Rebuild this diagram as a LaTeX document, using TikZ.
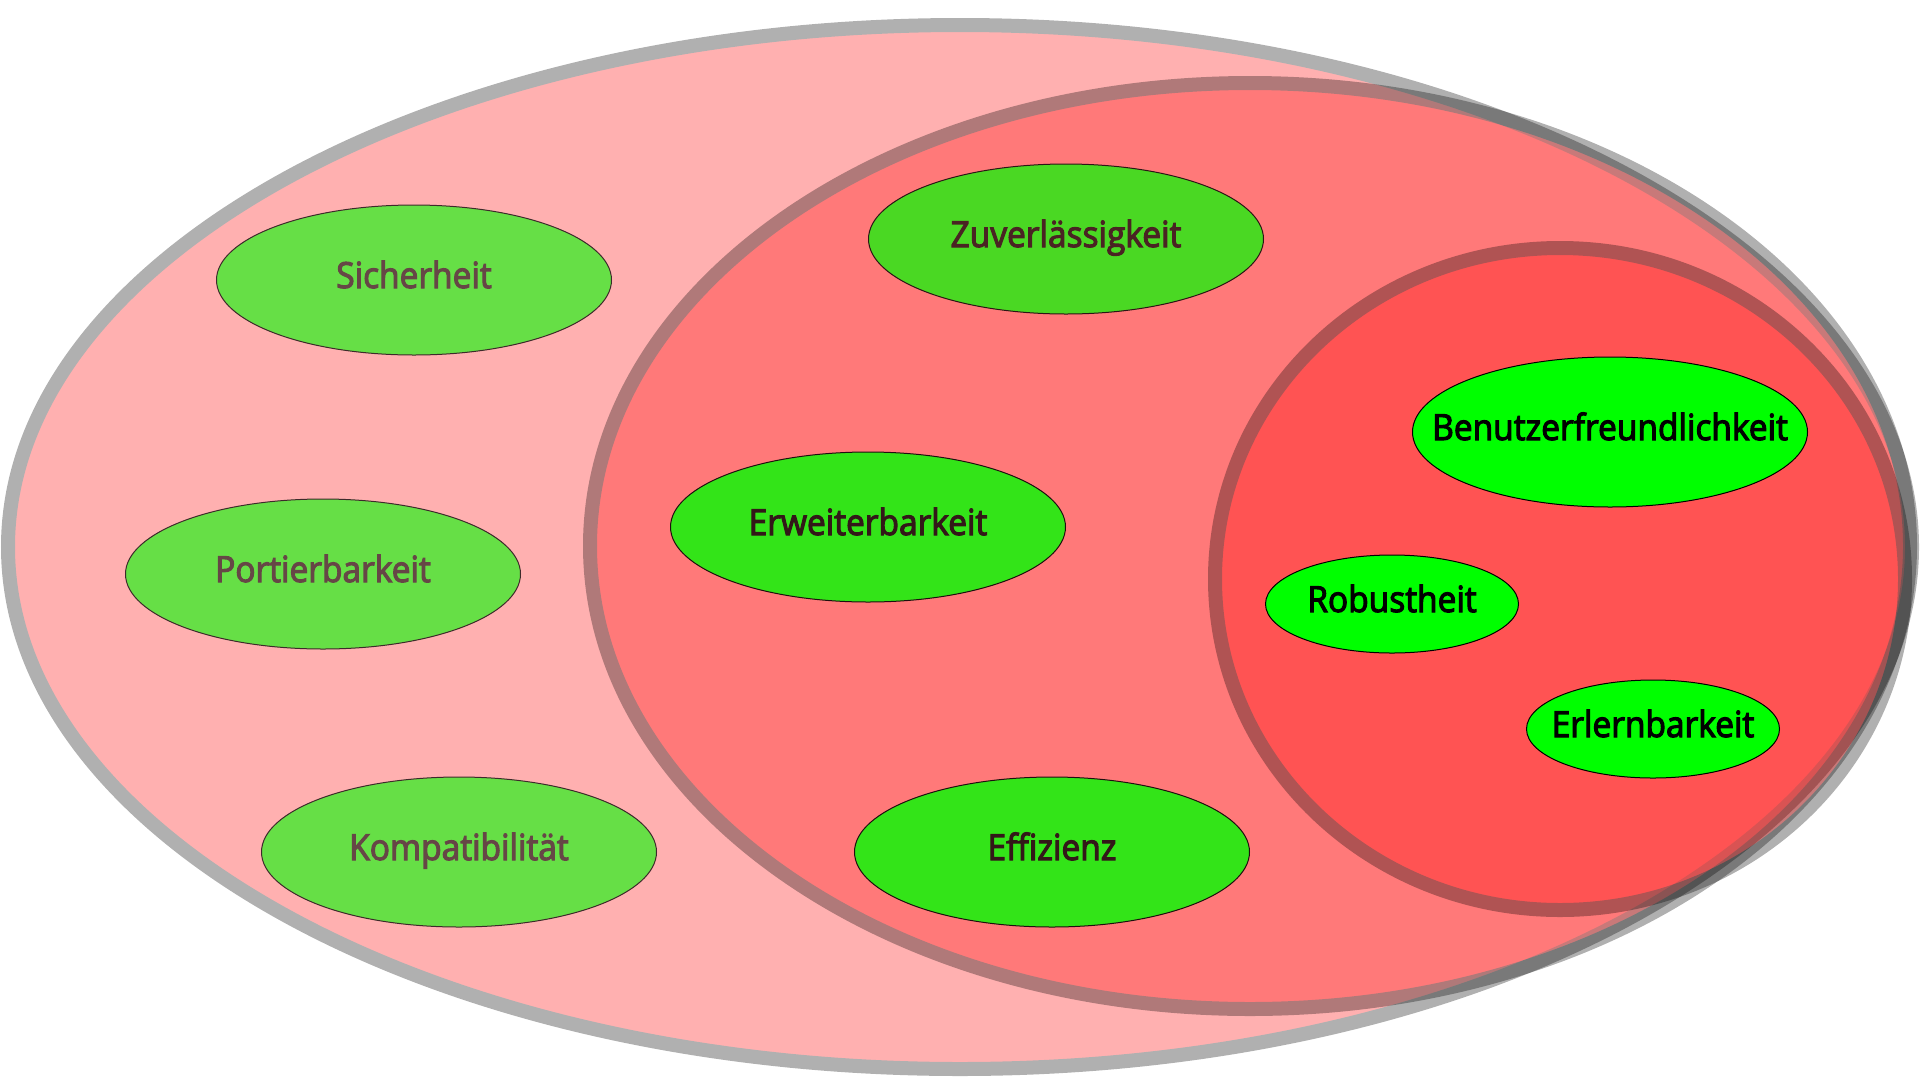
\documentclass[tikz,border=0pt]{standalone}
\usepackage{fontspec}
\setmainfont{Open Sans}[FakeBold=3, FakeStretch=0.93]
\usetikzlibrary{shapes.geometric}
\definecolor{gLeft}{HTML}{66DF46}
\definecolor{tLeft}{HTML}{664646}
\definecolor{gMidA}{HTML}{4AD823}
\definecolor{tMidA}{HTML}{4A2323}
\definecolor{gMidB}{HTML}{33E418}
\definecolor{tMidB}{HTML}{331818}
\definecolor{gRight}{HTML}{00FF00}
\newcommand{\itemtext}[1]{\raisebox{-8pt}[0pt][0pt]{\makebox[0pt]{#1}}}
\tikzset{
  set/.style={fill=red, draw=black, line width=14pt},
  item/.style={ellipse, draw=#1!60!black, line width=1pt, inner sep=0pt,
               minimum width=395pt, minimum height=150pt,
               font=\fontsize{36}{40}\selectfont},
  small/.style={minimum width=253pt, minimum height=98pt},
}
\begin{document}
\begin{tikzpicture}[x=1pt, y=-1pt]
\useasboundingbox[fill=white] (0,0) rectangle (1920,1080);
% nested sets
\begin{scope}[transparency group, opacity=0.31]
\path[set] (960,547) ellipse [x radius=952pt, y radius=522pt];
\end{scope}
\begin{scope}[transparency group, opacity=0.31]
\path[set] (1250,546) ellipse [x radius=660pt, y radius=463pt];
\end{scope}
\begin{scope}[transparency group, opacity=0.31]
\path[set] (1560,579) ellipse [x radius=345pt, y radius=331pt];
\end{scope}
% items, outer set only
\node[item=tLeft, fill=gLeft, text=tLeft] (sich) at (414,280) {\itemtext{Sicherheit}};
\node[item=tLeft, fill=gLeft, text=tLeft] (port) at (323,574) {\itemtext{Portierbarkeit}};
\node[item=tLeft, fill=gLeft, text=tLeft] (komp) at (459,852) {\itemtext{Kompatibilität}};
% items, middle set
\node[item=tMidA, fill=gMidA, text=tMidA] (zuv) at (1066,239) {\itemtext{Zuverlässigkeit}};
\node[item=tMidB, fill=gMidB, text=tMidB] (erw) at (868,527) {\itemtext{Erweiterbarkeit}};
\node[item=tMidB, fill=gMidB, text=tMidB] (eff) at (1052,852) {\itemtext{Effizienz}};
% items, inner set
\node[item=black, fill=gRight, text=black] (ben) at (1610,432) {\itemtext{Benutzerfreundlichkeit}};
\node[item=black, small, fill=gRight, text=black] (rob) at (1392,604) {\itemtext{Robustheit}};
\node[item=black, small, fill=gRight, text=black] (erl) at (1653,729) {\itemtext{Erlernbarkeit}};
\end{tikzpicture}
\end{document}
